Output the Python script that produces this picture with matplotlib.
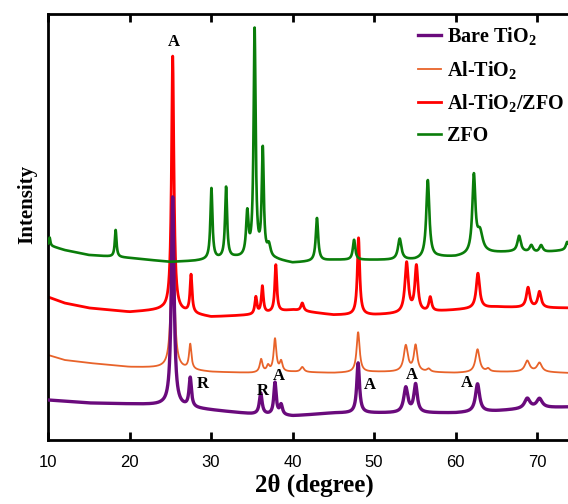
import matplotlib
matplotlib.use("Agg")
import matplotlib.pyplot as plt
import numpy as np

plt.rcParams['mathtext.fontset'] = 'custom'
plt.rcParams['mathtext.rm'] = 'Liberation Serif:bold'
plt.rcParams['mathtext.it'] = 'Liberation Serif:bold:italic'
plt.rcParams['mathtext.bf'] = 'Liberation Serif:bold'

# values (stacked patterns, arbitrary intensity units)
x_min, x_max = 10, 73.8

# Bare TiO2
bare_base_x = [10, 15, 20, 24, 30, 35, 40, 45, 50, 55, 60, 65, 70, 73.8]
bare_base_y = [40, 37, 36, 35, 30, 26, 24, 27, 27, 27, 27, 29, 32, 33]
bare_pk_pos = [25.3, 27.45, 36.1, 37.85, 38.6, 48.05, 53.9, 55.1, 62.7, 68.8, 70.3]
bare_pk_h = [209, 29, 21, 32, 10, 50, 25, 28, 28, 10, 9]
bare_pk_w = [0.4, 0.35, 0.4, 0.35, 0.4, 0.4, 0.6, 0.5, 0.6, 0.8, 0.8]

# Al-TiO2
al_base_x = [10, 12, 15, 20, 24, 30, 35, 40, 45, 50, 55, 60, 65, 70, 73.8]
al_base_y = [85, 80, 77, 73, 72, 68, 67, 68, 67, 68, 68, 67, 68, 68, 67]
al_pk_pos = [25.3, 27.45, 36.15, 37.0, 37.85, 38.6, 41.2, 48.05, 53.9, 55.1, 56.7, 62.7, 64.0, 68.8, 70.3]
al_pk_h = [153, 25, 13, 6, 33, 10, 5, 40, 26, 26, 3, 23, 3, 11, 9]
al_pk_w = [0.45, 0.35, 0.4, 0.4, 0.4, 0.4, 0.5, 0.45, 0.6, 0.5, 0.5, 0.6, 0.5, 0.7, 0.7]

# Al-TiO2/ZFO
alz_base_x = [10, 12, 15, 20, 24, 27, 30, 35, 40, 45, 50, 55, 60, 65, 70, 73.8]
alz_base_y = [143, 137, 132, 128, 130, 127, 123, 125, 130, 125, 125, 127, 130, 133, 132, 132]
alz_pk_pos = [25.3, 27.55, 35.5, 36.3, 37.95, 41.2, 48.1, 54.0, 55.2, 56.9, 62.75, 68.9, 70.3]
alz_pk_h = [255, 38, 17, 27, 47, 8, 77, 50, 46, 14, 35, 20, 16]
alz_pk_w = [0.35, 0.3, 0.3, 0.3, 0.3, 0.4, 0.35, 0.5, 0.45, 0.4, 0.5, 0.5, 0.5]

# ZFO
zfo_base_x = [10, 12, 15, 20, 25, 28, 33, 38, 40, 45, 50, 55, 58, 60, 64, 67, 70, 73.8]
zfo_base_y = [195, 190, 185, 182, 178, 179, 182, 180, 177, 180, 180, 180, 183, 183, 187, 188, 187, 190]
zfo_pk_pos = [10.2, 18.3, 30.05, 31.85, 34.45, 35.35, 36.35, 37.1, 43.0, 47.55, 53.15, 56.6, 62.25, 63.0, 67.8, 69.3, 70.5, 73.7]
zfo_pk_h = [8, 27, 71, 71, 43, 227, 107, 12, 43, 20, 21, 78, 77, 20, 16, 7, 7, 8]
zfo_pk_w = [0.2, 0.25, 0.3, 0.3, 0.35, 0.3, 0.3, 0.5, 0.35, 0.35, 0.5, 0.45, 0.45, 0.8, 0.5, 0.5, 0.5, 0.4]

labels = ["Bare TiO$_2$", "Al-TiO$_2$", "Al-TiO$_2$/ZFO", "ZFO"]
colors = ["#6a0a7c", "#e8632a", "#ff0000", "#0a7d0a"]
widths = [2.4, 1.3, 2.0, 1.9]
layers = [3, 1, 2, 4]

# phase marks (A = anatase, R = rutile)
mark_txt = ["A", "R", "R", "A", "A", "A", "A"]
mark_x = [25.45, 29.0, 36.3, 38.3, 49.5, 54.7, 61.4]
mark_y = [398, 56, 49, 64, 55, 65, 57]


def pattern(tt, bx, by, pos, h, w):
    y = np.interp(tt, bx, by)
    for p, a, fw in zip(pos, h, w):
        g = fw / 2
        y = y + a * g ** 2 / ((tt - p) ** 2 + g ** 2)
    return y


tt = np.linspace(x_min, x_max, 4000)
curves = [
    pattern(tt, bare_base_x, bare_base_y, bare_pk_pos, bare_pk_h, bare_pk_w),
    pattern(tt, al_base_x, al_base_y, al_pk_pos, al_pk_h, al_pk_w),
    pattern(tt, alz_base_x, alz_base_y, alz_pk_pos, alz_pk_h, alz_pk_w),
    pattern(tt, zfo_base_x, zfo_base_y, zfo_pk_pos, zfo_pk_h, zfo_pk_w),
]

fig = plt.figure(figsize=(5.68, 5.04), dpi=100)
ax = fig.add_axes([48 / 568, 64 / 504, 1 - 48 / 568, 426 / 504])

for c, lab, col, lw, z in zip(curves, labels, colors, widths, layers):
    ax.plot(tt, c, color=col, lw=lw, label=lab, zorder=z)

for t, mx, my in zip(mark_txt, mark_x, mark_y):
    ax.text(mx, my, t, ha='center', va='center', fontsize=12,
            fontweight='bold', family='Liberation Serif', zorder=5)

ax.set_xlim(x_min, x_max)
ax.set_ylim(0, 426)
ax.set_xticks([10, 20, 30, 40, 50, 60, 70])
ax.set_yticks([])
ax.tick_params(axis='x', direction='in', top=True, length=6, width=2,
               labelsize=12, pad=11)
for lab in ax.get_xticklabels():
    lab.set_family('Liberation Sans')
for s in ['left', 'bottom', 'top']:
    ax.spines[s].set_linewidth(2)
ax.spines['right'].set_visible(False)

ax.set_xlabel("2θ (degree)", fontsize=18, fontweight='bold',
              family='Liberation Serif')
ax.xaxis.set_label_coords(0.512, -0.078)
ax.set_ylabel("Intensity", fontsize=15, fontweight='bold',
              family='Liberation Serif')
ax.yaxis.set_label_coords(-0.02, 0.552)

leg = ax.legend(loc='upper left', bbox_to_anchor=(418 / 568, 1 - 25 / 504),
                bbox_transform=fig.transFigure, frameon=False,
                prop={'family': 'Liberation Serif', 'weight': 'bold', 'size': 14.5},
                handlelength=1.15, handletextpad=0.3, labelspacing=0.58,
                borderpad=0, borderaxespad=0)

fig.savefig("out.png", dpi=100)
